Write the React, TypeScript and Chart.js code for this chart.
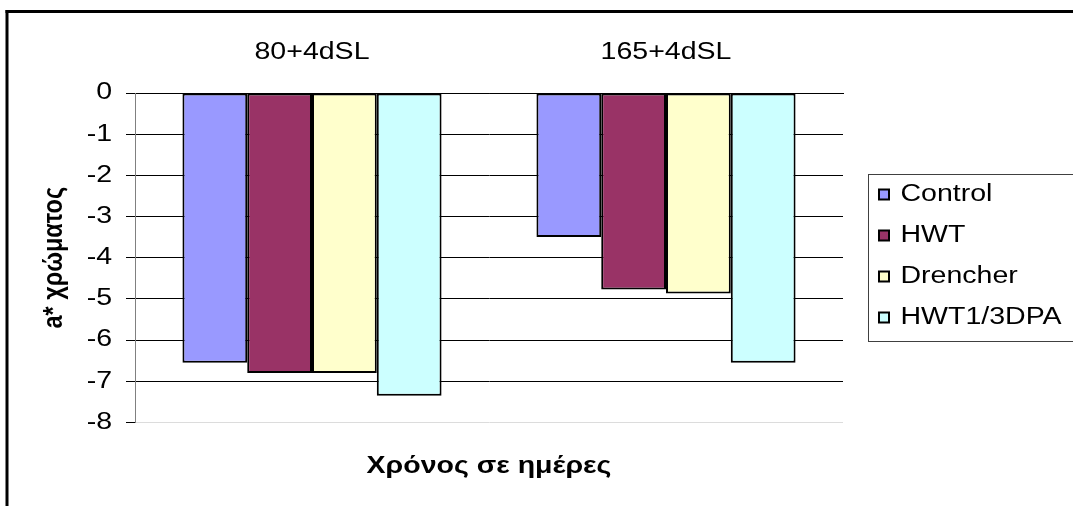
import React, { useEffect, useRef } from 'react';
import { Chart, registerables } from 'chart.js';

Chart.register(...registerables);

// ---- data ----
const categories = ['80+4dSL', '165+4dSL'];
const seriesNames = ['Control', 'HWT', 'Drencher', 'HWT1/3DPA'];
const controlValues = [-6.55, -3.5];
const hwtValues = [-6.8, -4.77];
const drencherValues = [-6.8, -4.87];
const hwtDpaValues = [-7.35, -6.55];
const seriesColors = ['#9999FF', '#993366', '#FFFFCC', '#CCFFFF'];
const yMin = -8;
const yMax = 0;
const yStep = 1;
const yTitle = 'a* χρώματος';
const xTitle = 'Χρόνος σε ημέρες';

// ---- layout constants ----
const CANVAS_W = 1100;
const CANVAS_H = 512;
const PLOT_LEFT = 135;
const PLOT_TOP = 93;
const GAP_RIGHT = 18;
const LEGEND_LEFT = 861;
const FONT = 'Liberation Sans, Arial, sans-serif';
const TEXT_STRETCH = 1.24;

function patchText(ctx: any) {
  if (ctx.__stretched) return;
  ctx.__stretched = true;
  const fill = ctx.fillText.bind(ctx);
  const measure = ctx.measureText.bind(ctx);
  const isRotated = () => {
    const t = ctx.getTransform();
    return Math.abs(t.b) > 1e-6 || Math.abs(t.c) > 1e-6;
  };
  ctx.fillText = (text: string, x: number, y: number, maxWidth?: number) => {
    const rotated = isRotated();
    const sx = rotated ? 1.02 : TEXT_STRETCH;
    const sy = rotated ? 1.18 : 1;
    ctx.save();
    ctx.translate(x, y);
    ctx.scale(sx, sy);
    if (maxWidth === undefined || maxWidth === null) fill(text, 0, 0);
    else fill(text, 0, 0, maxWidth / sx);
    ctx.restore();
  };
  ctx.measureText = (text: string) => {
    const m = measure(text);
    return {
      width: m.width * TEXT_STRETCH,
      actualBoundingBoxLeft: m.actualBoundingBoxLeft * TEXT_STRETCH,
      actualBoundingBoxRight: m.actualBoundingBoxRight * TEXT_STRETCH,
      actualBoundingBoxAscent: m.actualBoundingBoxAscent,
      actualBoundingBoxDescent: m.actualBoundingBoxDescent,
      fontBoundingBoxAscent: m.fontBoundingBoxAscent,
      fontBoundingBoxDescent: m.fontBoundingBoxDescent,
    };
  };
}

const framePlugin = {
  id: 'frame',
  beforeDraw(chart: any) {
    const c = chart.ctx;
    c.save();
    c.fillStyle = '#ffffff';
    c.fillRect(0, 0, chart.width, chart.height);
    c.fillStyle = '#000000';
    c.fillRect(5.5, 10, 3, chart.height);
    c.fillRect(5.5, 10, chart.width, 3);
    c.restore();
  },
  afterDraw(chart: any) {
    const lg = chart.legend;
    if (!lg || !lg.legendHitBoxes || !lg.legendHitBoxes.length) return;
    const hb = lg.legendHitBoxes;
    const first = hb[0];
    const last = hb[hb.length - 1];
    const left = Math.round(first.left - 11) + 0.5;
    const top = Math.round(first.top - 9) + 0.5;
    const bottom = Math.round(last.top + last.height + 12) + 0.5;
    const c = chart.ctx;
    c.save();
    c.strokeStyle = '#404040';
    c.lineWidth = 1;
    c.strokeRect(left, top, chart.width + 20, bottom - top);
    c.restore();
  },
};

export default function App() {
  const ref = useRef<HTMLCanvasElement>(null);

  useEffect(() => {
    const canvas = ref.current;
    if (!canvas) return;
    const ctx = canvas.getContext('2d');
    if (!ctx) return;
    patchText(ctx);

    const valueSets = [controlValues, hwtValues, drencherValues, hwtDpaValues];
    const chart = new Chart(ctx, {
      type: 'bar',
      data: {
        labels: categories,
        datasets: seriesNames.map((name, i) => ({
          label: name,
          data: valueSets[i],
          backgroundColor: seriesColors[i],
          borderColor: '#000000',
          borderWidth: 2,
          borderSkipped: false,
          xAxisID: 'x',
          yAxisID: 'y',
          categoryPercentage: 0.732,
          barPercentage: 1,
        })),
      },
      options: {
        responsive: false,
        animation: false,
        devicePixelRatio: 1,
        events: [],
        layout: { padding: { left: 0, top: 0, right: 0, bottom: 0 } },
        scales: {
          x: {
            type: 'category',
            position: 'top',
            grid: { display: false, drawTicks: false },
            border: { display: true, color: '#000000', width: 1 },
            ticks: {
              color: '#000000',
              font: { family: FONT, size: 23 },
              padding: 27,
              maxRotation: 0,
              autoSkip: false,
            },
            afterFit: (s: any) => {
              s.height = PLOT_TOP;
            },
          },
          y: {
            type: 'linear',
            position: 'left',
            min: yMin,
            max: yMax,
            ticks: {
              stepSize: yStep,
              color: '#000000',
              font: { family: FONT, size: 23 },
              padding: 14,
            },
            grid: {
              color: (c: any) => (c.tick && c.tick.value === yMin ? '#dcdcdc' : '#000000'),
              tickColor: '#000000',
              tickLength: 9,
              lineWidth: 1,
            },
            border: { display: true, color: '#808080', width: 1 },
            title: {
              display: true,
              text: yTitle,
              color: '#000000',
              font: { family: FONT, size: 23, weight: 'bold' },
              padding: { top: 41, bottom: 0 },
            },
            afterFit: (s: any) => {
              s.width = PLOT_LEFT;
            },
          },
          y2: {
            type: 'linear',
            position: 'right',
            display: false,
            grid: { display: false, drawTicks: false },
            border: { display: false },
            ticks: { display: false },
            afterFit: (s: any) => {
              s.width = GAP_RIGHT;
            },
          },
        },
        plugins: {
          legend: {
            display: true,
            position: 'right',
            align: 'center',
            labels: {
              boxWidth: 10,
              boxHeight: 10,
              padding: 18,
              color: '#000000',
              font: { family: FONT, size: 23 },
            },
          },
          title: {
            display: true,
            text: xTitle,
            position: 'bottom',
            fullSize: false,
            color: '#000000',
            font: { family: FONT, size: 23, weight: 'bold' },
            padding: { top: 30, bottom: 32 },
          },
          tooltip: { enabled: false },
        },
      } as any,
      plugins: [framePlugin],
    });

    const lg: any = (chart as any).legend;
    if (lg && lg.width) {
      const padRight = chart.width - lg.width - LEGEND_LEFT;
      (chart.options as any).layout.padding = { left: 0, top: 0, bottom: 0, right: padRight };
      chart.update();
    }

    return () => {
      chart.destroy();
    };
  }, []);

  return (
    <div
      style={{
        position: 'absolute',
        left: 0,
        top: 0,
        width: 1073,
        height: 506,
        overflow: 'hidden',
        background: '#ffffff',
      }}
    >
      <canvas ref={ref} width={CANVAS_W} height={CANVAS_H} style={{ display: 'block' }} />
    </div>
  );
}
